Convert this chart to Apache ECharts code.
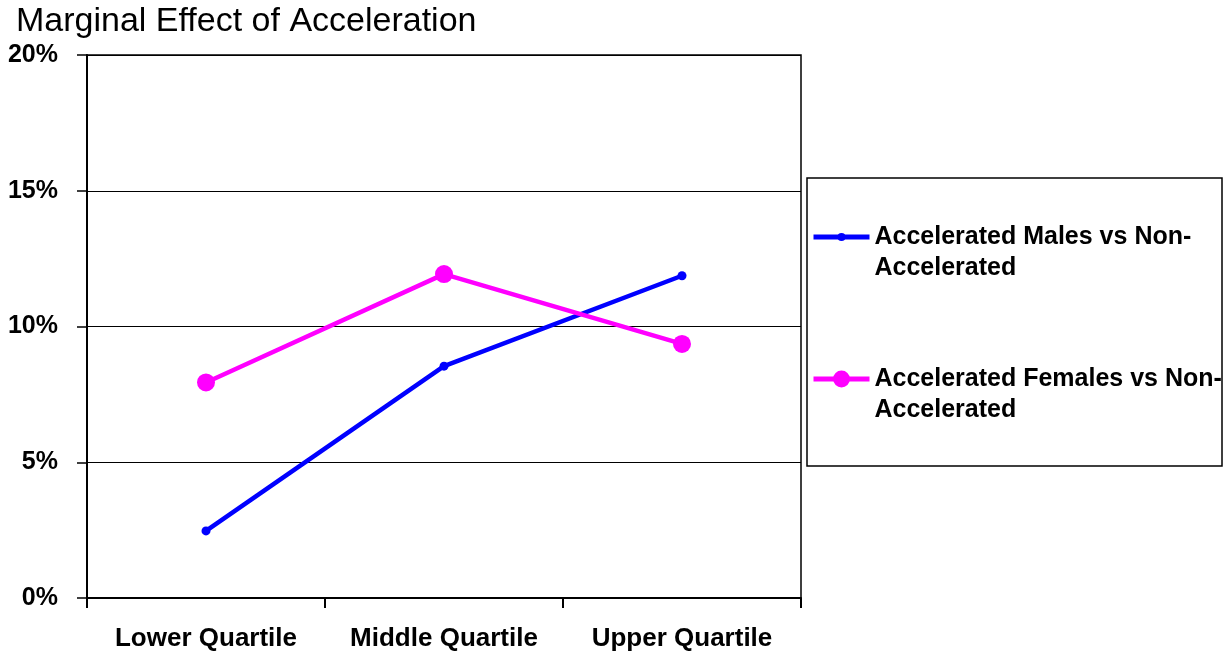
<!DOCTYPE html>
<html>
<head>
<meta charset="utf-8">
<script src="https://cdn.jsdelivr.net/npm/echarts@6/dist/echarts.min.js"></script>
<style>html,body{margin:0;padding:0;background:#fff;}#c{width:1224px;height:654px;}</style>
</head>
<body>
<div id="c"></div>
<script>
const categories = ['Lower Quartile', 'Middle Quartile', 'Upper Quartile'];
const malesName = 'Accelerated Males vs Non-Accelerated';
const femalesName = 'Accelerated Females vs Non-Accelerated';
const malesValues = [2.47, 8.54, 11.87];
const femalesValues = [7.94, 11.93, 9.36];
const yTicks = { min: 0, max: 20, interval: 5 };

const FONT = '"Liberation Sans", Arial, sans-serif';
const chart = echarts.init(document.getElementById('c'));

function legendCfg(name, top, itemH) {
  return {
    data: [name],
    orient: 'vertical',
    left: 811,
    top: top,
    padding: 0,
    itemWidth: 56,
    itemHeight: itemH,
    selectedMode: false,
    lineStyle: { width: 5 },
    formatter: function (n) { return '\u00a0\n' + n.replace('Non-', 'Non-\n'); },
    textStyle: {
      fontFamily: FONT, fontSize: 25, fontWeight: 'bold', color: '#000',
      lineHeight: 31
    }
  };
}

chart.setOption({
  animation: false,
  backgroundColor: '#fff',
  title: {
    text: 'Marginal Effect of Acceleration',
    left: 11, top: 0,
    textStyle: { fontFamily: FONT, fontSize: 34, fontWeight: 'normal', color: '#000' }
  },
  graphic: [{
    type: 'rect',
    shape: { x: 807, y: 178, width: 415, height: 288 },
    style: { fill: 'none', stroke: '#000', lineWidth: 1.5 },
    z: -1
  }],
  legend: [
    legendCfg(malesName, 190.5, 10),
    legendCfg(femalesName, 332.5, 21)
  ],
  grid: {
    left: 87, top: 55, right: 423, bottom: 56,
    show: true, borderColor: '#000', borderWidth: 1.5, backgroundColor: 'transparent'
  },
  xAxis: {
    type: 'category',
    data: categories,
    boundaryGap: true,
    axisLine: { lineStyle: { color: '#000', width: 2 } },
    axisTick: { show: true, interval: 0, length: 10, inside: false, lineStyle: { color: '#000', width: 2 } },
    axisLabel: { interval: 0, hideOverlap: false, fontFamily: FONT, fontSize: 26, fontWeight: 'bold', color: '#000', margin: 28 },
    splitLine: { show: false }
  },
  yAxis: {
    type: 'value',
    min: yTicks.min, max: yTicks.max, interval: yTicks.interval,
    axisLine: { show: true, lineStyle: { color: '#000', width: 2 } },
    axisTick: { show: true, length: 10, inside: false, lineStyle: { color: '#000', width: 1.5 } },
    axisLabel: { formatter: '{value}%', fontFamily: FONT, fontSize: 25, fontWeight: 'bold', color: '#000', margin: 29 },
    splitLine: { show: true, lineStyle: { color: '#000', width: 1 } }
  },
  series: [
    {
      name: malesName, type: 'line', data: malesValues,
      symbol: 'circle', symbolSize: 9,
      lineStyle: { color: '#0000FF', width: 4.5 },
      itemStyle: { color: '#0000FF' }
    },
    {
      name: femalesName, type: 'line', data: femalesValues,
      symbol: 'circle', symbolSize: 18,
      lineStyle: { color: '#FF00FF', width: 4.5 },
      itemStyle: { color: '#FF00FF' }
    }
  ]
});
</script>
</body>
</html>
